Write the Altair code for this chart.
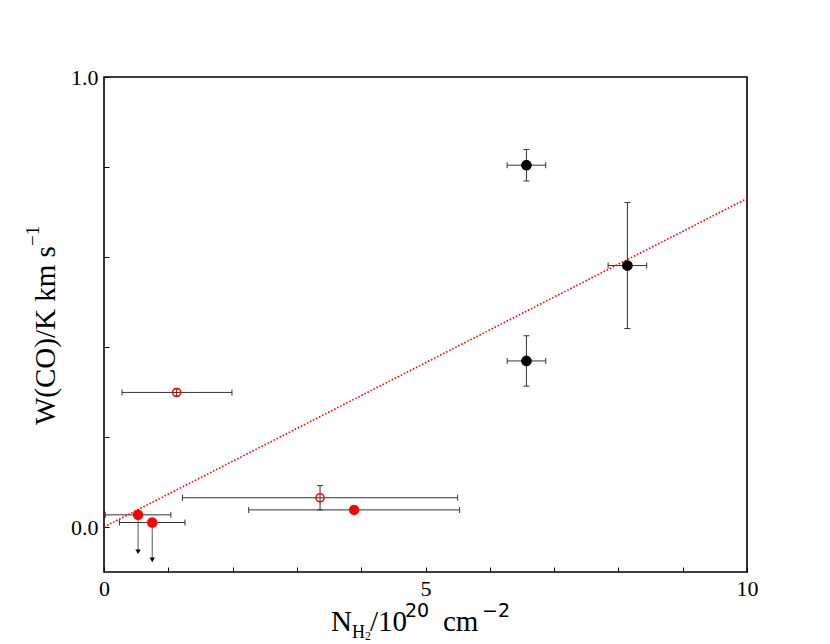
import altair as alt
import pandas as pd

# ---- data ----
# black points (detections)
x_black = [6.57, 8.14, 6.57]
y_black = [0.804, 0.581, 0.369]
xerr_black = [0.30, 0.30, 0.30]
yerr_black = [0.035, 0.140, 0.056]

# red open circles
x_open = [1.13, 3.36]
y_open = [0.299, 0.065]
xerr_open_lo = [0.85, 2.14]
xerr_open_hi = [0.86, 2.14]
yerr_open = [0.008, 0.027]

# red filled point
x_red = [3.89]
y_red = [0.038]
xerr_red = [1.64]
yerr_red = [0.008]

# red filled upper limits
x_lim = [0.53, 0.75]
y_lim = [0.027, 0.010]
xerr_lim = [0.51, 0.51]
y_arrow = [-0.055, -0.073]

# linear fit (dotted)
fit_x = [0.0, 10.0]
fit_y = [0.0, 0.73]

x_ticks = list(range(0, 11))
y_ticks = [0.0, 0.2, 0.4, 0.6, 0.8, 1.0]

# ---- tables ----
black = pd.DataFrame({"x": x_black, "y": y_black,
                      "xlo": [a - e for a, e in zip(x_black, xerr_black)],
                      "xhi": [a + e for a, e in zip(x_black, xerr_black)],
                      "ylo": [a - e for a, e in zip(y_black, yerr_black)],
                      "yhi": [a + e for a, e in zip(y_black, yerr_black)]})
opn = pd.DataFrame({"x": x_open, "y": y_open,
                    "xlo": [a - e for a, e in zip(x_open, xerr_open_lo)],
                    "xhi": [a + e for a, e in zip(x_open, xerr_open_hi)],
                    "ylo": [a - e for a, e in zip(y_open, yerr_open)],
                    "yhi": [a + e for a, e in zip(y_open, yerr_open)]})
red = pd.DataFrame({"x": x_red, "y": y_red,
                    "xlo": [a - e for a, e in zip(x_red, xerr_red)],
                    "xhi": [a + e for a, e in zip(x_red, xerr_red)],
                    "ylo": [a - e for a, e in zip(y_red, yerr_red)],
                    "yhi": [a + e for a, e in zip(y_red, yerr_red)]})
lim = pd.DataFrame({"x": x_lim, "y": y_lim, "ya": y_arrow,
                    "xlo": [a - e for a, e in zip(x_lim, xerr_lim)],
                    "xhi": [a + e for a, e in zip(x_lim, xerr_lim)]})
fit = pd.DataFrame({"x": fit_x, "y": fit_y})

allx = pd.concat([black, opn, red, lim[["x", "y", "xlo", "xhi"]]], ignore_index=True)
ally = pd.concat([black, opn, red], ignore_index=True)
xcaps = pd.DataFrame({"x": list(allx["xlo"]) + list(allx["xhi"]),
                      "y": list(allx["y"]) * 2})
ycaps = pd.DataFrame({"x": list(ally["x"]) * 2,
                      "y": list(ally["ylo"]) + list(ally["yhi"])})

# ---- scales / axes ----
xs = alt.Scale(domain=[0, 10], nice=False, zero=False)
ys = alt.Scale(domain=[-0.1, 1.0], nice=False, zero=False)
SERIF = "Liberation Serif"
xax = alt.Axis(values=x_ticks, format="d", title=None, grid=False, domain=False,
               offset=-5, tickSize=5, tickColor="black", tickWidth=1,
               labelExpr="datum.value % 5 === 0 ? datum.label : ''",
               labelFont=SERIF, labelFontSize=22, labelColor="black",
               labelPadding=6, labelFlush=False, labelOverlap=False)
yax = alt.Axis(values=y_ticks, format=".1f", title=None, grid=False, domain=False,
               offset=-5, tickSize=5, tickColor="black", tickWidth=1,
               labelExpr="(datum.value === 0 || datum.value === 1) ? datum.label : ''",
               labelFont=SERIF, labelFontSize=22, labelColor="black",
               labelPadding=6, labelFlush=False, labelOverlap=False)


def X(f):
    return alt.X(f, type="quantitative", scale=xs, axis=xax)


def Y(f):
    return alt.Y(f, type="quantitative", scale=ys, axis=yax)


BAR = "#333333"

hbars = alt.Chart(allx).mark_rule(color=BAR, strokeWidth=1).encode(
    x=X("xlo"), x2="xhi", y=Y("y"))
vbars = alt.Chart(ally).mark_rule(color=BAR, strokeWidth=1).encode(
    x=X("x"), y=Y("ylo"), y2="yhi")
hcaps = alt.Chart(xcaps).mark_tick(orient="vertical", size=6, thickness=1, color=BAR,
                                   opacity=1).encode(x=X("x"), y=Y("y"))
vcaps = alt.Chart(ycaps).mark_tick(orient="horizontal", size=6, thickness=1, color=BAR,
                                   opacity=1).encode(x=X("x"), y=Y("y"))
arrows = alt.Chart(lim).mark_rule(color="#555555", strokeWidth=1).encode(
    x=X("x"), y=Y("y"), y2="ya")
heads = alt.Chart(lim).mark_point(shape="triangle-down", filled=True, size=30,
                                  color="black", opacity=1).encode(x=X("x"), y=Y("ya"))
fitline = alt.Chart(fit).mark_line(color="red", strokeWidth=1.6,
                                   strokeDash=[1.6, 1.8]).encode(x=X("x"), y=Y("y"))
pts_black = alt.Chart(black).mark_point(shape="circle", filled=True, size=115,
                                        color="black", opacity=1).encode(x=X("x"), y=Y("y"))
pts_red = alt.Chart(pd.concat([red, lim], ignore_index=True)).mark_point(
    shape="circle", filled=True, size=110, color="red", opacity=1).encode(x=X("x"), y=Y("y"))
pts_open = alt.Chart(opn).mark_point(shape="circle", filled=False, size=65,
                                     color="red", strokeWidth=1.5, opacity=1).encode(
    x=X("x"), y=Y("y"))

dummy = alt.Data(values=[{}])


def txt(s, x, y, size, font=SERIF, angle=0):
    return alt.Chart(dummy).mark_text(text=s, font=font, fontSize=size, align="left",
                                      baseline="alphabetic", angle=angle,
                                      color="black").encode(x=alt.value(x), y=alt.value(y))


SANS = "DejaVu Sans"
titles = [
    txt("N", 227, 554, 29),
    txt("H", 248, 561, 18),
    txt("2", 261, 563, 12),
    txt("/10", 266, 554, 29),
    txt("20", 301, 540, 19, SANS),
    txt("cm", 339, 554, 29),
    txt("\u22122", 378, 540, 19, SANS),
    txt("W(CO)/K km s", -49, 348, 29, angle=270),
    txt("\u22121", -65, 169, 19, angle=270),
]

chart = alt.layer(hbars, vbars, hcaps, vcaps, arrows, heads, fitline,
                  pts_black, pts_red, pts_open, *titles).properties(
    width=643, height=495,
    background="white",
    autosize=alt.AutoSizeParams(type="none"),
    padding={"left": 96, "top": 69, "right": 60, "bottom": 80},
).configure_view(stroke="black", strokeWidth=1.6)

chart.save("out.html", embed_options={"renderer": "svg", "actions": False})
